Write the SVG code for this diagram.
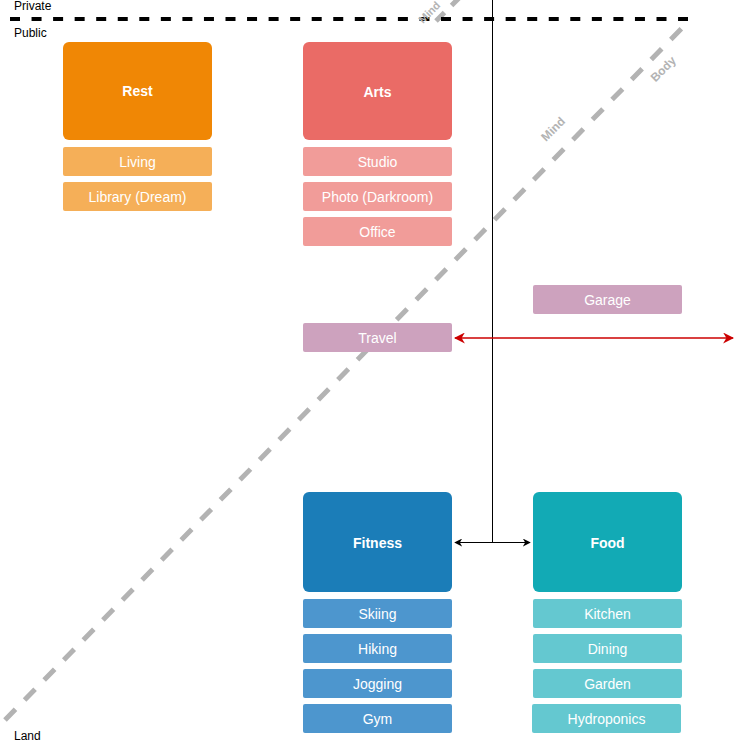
<svg xmlns="http://www.w3.org/2000/svg" width="743" height="743" viewBox="0 0 743 743">
<defs>
<style>
.t{font-family:"Liberation Sans",Arial,sans-serif;font-size:14px;fill:#fff;text-anchor:middle;dominant-baseline:central}
.b{font-weight:bold}
.lbl{font-family:"Liberation Sans",Arial,sans-serif;font-size:12px;fill:#000}
.gl{font-family:"Liberation Sans",Arial,sans-serif;font-size:12px;font-weight:bold;fill:#B3B3B3;text-anchor:middle}
</style>
<marker id="ak" viewBox="0 0 10 10" refX="9" refY="5" markerWidth="8" markerHeight="8" orient="auto-start-reverse" markerUnits="userSpaceOnUse"><path d="M0,0 L10,5 L0,10 L3,5 Z" fill="#000"/></marker>
<marker id="ar" viewBox="0 0 10 10" refX="9" refY="5" markerWidth="11" markerHeight="11" orient="auto-start-reverse" markerUnits="userSpaceOnUse"><path d="M0,0 L10,5 L0,10 L3,5 Z" fill="#CC0000"/></marker>
</defs>
<rect width="743" height="743" fill="#fff"/>
<g id="guides">
<line x1="5" y1="720" x2="688" y2="22" stroke="#B3B3B3" stroke-width="5" stroke-dasharray="15 13"/>
<line x1="436" y1="21" x2="459" y2="-2" stroke="#B3B3B3" stroke-width="5" stroke-dasharray="12 10"/>
<line x1="10" y1="19" x2="688" y2="19" stroke="#000" stroke-width="4" stroke-dasharray="10 11.55"/>
<text class="lbl" x="14" y="10">Private</text>
<text class="lbl" x="14" y="37">Public</text>
<text class="lbl" x="14" y="740">Land</text>
<text class="gl" transform="translate(556,132) rotate(-45)">Mind</text>
<text class="gl" transform="translate(666,72) rotate(-45)">Body</text>
<text class="gl" style="font-size:11px" transform="translate(432,15) rotate(-45)">Mind</text>
</g>
<g id="connectors">
<line x1="492.5" y1="0" x2="492.5" y2="542" stroke="#000" stroke-width="1"/>
<line x1="455" y1="542.5" x2="530" y2="542.5" stroke="#000" stroke-width="1" marker-start="url(#ak)" marker-end="url(#ak)"/>
<line x1="455" y1="338" x2="733" y2="338" stroke="#CC0000" stroke-width="1.5" marker-start="url(#ar)" marker-end="url(#ar)"/>
</g>
<g id="rest">
<rect x="63" y="42" width="149" height="98" rx="6" fill="#F08705"/>
<text class="t b" x="137.5" y="91">Rest</text>
</g>
<g id="living"><rect x="63" y="147" width="149" height="29" rx="2" fill="#F5AF58"/><text class="t" x="137.5" y="162">Living</text></g>
<g id="library"><rect x="63" y="182" width="149" height="29" rx="2" fill="#F5AF58"/><text class="t" x="137.5" y="197">Library (Dream)</text></g>
<g id="arts">
<rect x="303" y="42" width="149" height="98" rx="6" fill="#EA6B66"/>
<text class="t b" x="377.5" y="92">Arts</text>
</g>
<g id="studio"><rect x="303" y="147" width="149" height="29" rx="2" fill="#F19C99"/><text class="t" x="377.5" y="162">Studio</text></g>
<g id="photo"><rect x="303" y="182" width="149" height="29" rx="2" fill="#F19C99"/><text class="t" x="377.5" y="197">Photo (Darkroom)</text></g>
<g id="office"><rect x="303" y="217" width="149" height="29" rx="2" fill="#F19C99"/><text class="t" x="377.5" y="232">Office</text></g>
<g id="garage"><rect x="533" y="285" width="149" height="29" rx="2" fill="#CDA2BE"/><text class="t" x="607.5" y="300">Garage</text></g>
<g id="travel"><rect x="303" y="323" width="149" height="29" rx="2" fill="#CDA2BE"/><text class="t" x="377.5" y="338">Travel</text></g>
<g id="fitness">
<rect x="303" y="492" width="149" height="100" rx="6" fill="#1B7DB8"/>
<text class="t b" x="377.5" y="543">Fitness</text>
</g>
<g id="skiing"><rect x="303" y="599" width="149" height="29" rx="2" fill="#4D96CE"/><text class="t" x="377.5" y="614">Skiing</text></g>
<g id="hiking"><rect x="303" y="634" width="149" height="29" rx="2" fill="#4D96CE"/><text class="t" x="377.5" y="649">Hiking</text></g>
<g id="jogging"><rect x="303" y="669" width="149" height="29" rx="2" fill="#4D96CE"/><text class="t" x="377.5" y="684">Jogging</text></g>
<g id="gym"><rect x="303" y="704" width="149" height="29" rx="2" fill="#4D96CE"/><text class="t" x="377.5" y="719">Gym</text></g>
<g id="food">
<rect x="533" y="492" width="149" height="100" rx="6" fill="#12AAB5"/>
<text class="t b" x="607.5" y="543">Food</text>
</g>
<g id="kitchen"><rect x="533" y="599" width="149" height="29" rx="2" fill="#64C8D0"/><text class="t" x="607.5" y="614">Kitchen</text></g>
<g id="dining"><rect x="533" y="634" width="149" height="29" rx="2" fill="#64C8D0"/><text class="t" x="607.5" y="649">Dining</text></g>
<g id="garden"><rect x="533" y="669" width="149" height="29" rx="2" fill="#64C8D0"/><text class="t" x="607.5" y="684">Garden</text></g>
<g id="hydroponics"><rect x="532" y="704" width="149" height="29" rx="2" fill="#64C8D0"/><text class="t" x="606.5" y="719">Hydroponics</text></g>
</svg>
